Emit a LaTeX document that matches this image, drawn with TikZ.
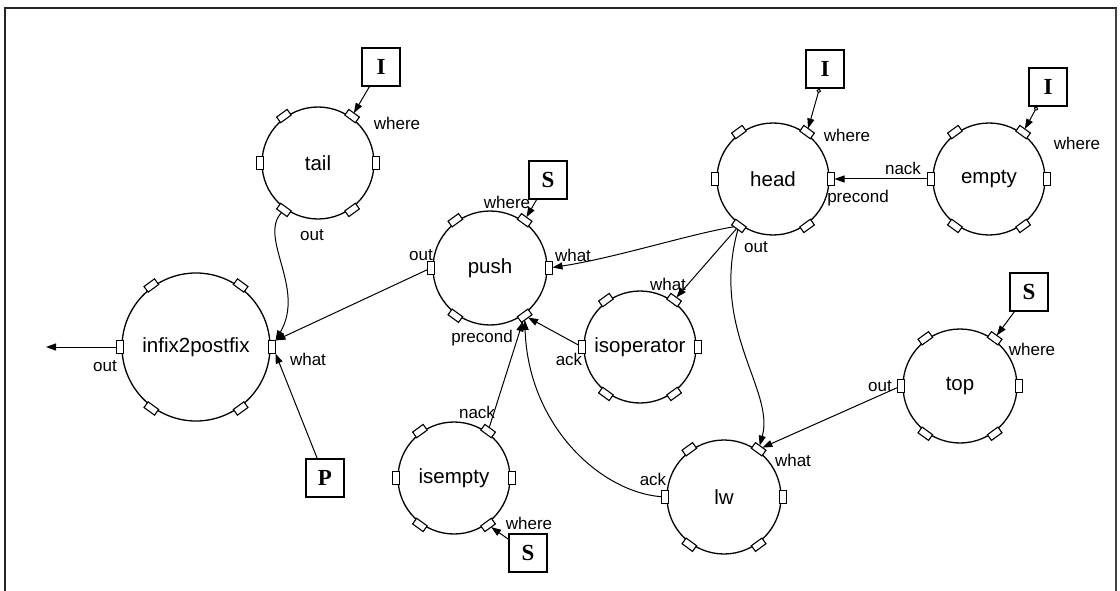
\documentclass[tikz,border=0pt]{standalone}
\usepackage{fontspec}
\setmainfont{Liberation Sans}
\newfontfamily\termfont{Liberation Serif}
\usetikzlibrary{arrows.meta,calc}

\tikzset{
  proc/.style={circle, draw, line width=1.3pt, inner sep=0pt,
    font=\fontsize{20.5}{22}\selectfont},
  port/.style={draw, fill=white, line width=1.1pt, minimum width=7pt,
    minimum height=13pt, inner sep=0pt, outer sep=0pt},
  termbox/.style={draw, line width=1.5pt, minimum size=38pt, inner sep=0pt,
    font=\termfont\bfseries\fontsize{23}{25}\selectfont},
  plabel/.style={font=\fontsize{17}{19}\selectfont, inner sep=0pt},
  wire/.style={line width=1pt, -{Triangle[length=10pt,width=7pt]}},
  tapwire/.style={line width=1pt,
    {Circle[open,length=4.5pt,width=4.5pt]}-{Triangle[length=10pt,width=7pt]}},
}

% a process: circle with six small port rectangles on its rim
% #1 name, #2 x, #3 y, #4 radius, #5 label
\newcommand\procnode[5]{%
  \node[proc, minimum size=#4*2pt] (#1) at (#2,#3) {#5};
  \foreach \a in {0,54,126,180,234,306}{
    \node[port, rotate=\a] (#1-\a) at ($(#1.center)+(\a:#4pt+2pt)$) {};
  }
}

\begin{document}
\begin{tikzpicture}[x=1pt,y=-1pt]
\useasboundingbox (0,0) rectangle (1120,591);
\fill[white] (0,0) rectangle (1120,591);

% outer frame
\draw[line width=1.4pt, black!85] (5,8) rectangle (1116,610);
\draw[line width=2.8pt, black!75] (1116,8) -- (1116,610);

% processes
\procnode{pTail}{318}{163}{56}{tail}
\procnode{pInfix}{196}{347}{74}{infix2postfix}
\procnode{pPush}{490}{268}{57}{push}
\procnode{pHead}{773}{179}{56}{head}
\procnode{pEmpty}{989}{179}{56}{empty}
\procnode{pIsop}{640}{347}{56}{isoperator}
\procnode{pIsempty}{454}{478}{56}{isempty}
\procnode{pLw}{724}{497}{57}{lw}
\procnode{pTop}{960}{386}{57}{top}

% terminals
\node[termbox] (iTail) at (381,67) {I};
\node[termbox] (pIn) at (325,478) {P};
\node[termbox] (sPush) at (548,180) {S};
\node[termbox] (iHead) at (825,69) {I};
\node[termbox] (iEmpty) at (1048,87) {I};
\node[termbox] (sTop) at (1029,292) {S};
\node[termbox] (sIsempty) at (528,553) {S};

% connectors
\coordinate (exitOut) at (46,347);
\draw[wire] (pInfix-180) -- (exitOut);
\draw[wire] (pTail-234) .. controls (258,238) and (306,288) .. (pInfix-0.north east);
\draw[wire] (pPush-180) -- (pInfix-0.north east);
\draw[wire] (pIn) -- (pInfix-0.south east);
\draw[wire] (iTail) -- (pTail-54);
\draw[wire] (sPush) -- (pPush-54);
\draw[wire] (pHead-234) .. controls (690,234) and (615,258) .. (pPush-0);
\draw[wire] (pHead-234) -- (pIsop-54);
\draw[wire] (pHead-234) .. controls (710,330) and (775,390) .. (pLw-54);
\draw[wire] (pEmpty-180) -- (pHead-0);
\draw[tapwire] (iHead) -- (pHead-54);
\draw[tapwire] (iEmpty) -- (pEmpty-54);
\draw[wire] (pIsop-180) -- (pPush-306);
\draw[wire] (pIsempty-54) -- (pPush-306);
\draw[wire] (pLw-180) .. controls (600,492) and (528,425) .. (pPush-306);
\draw[wire] (pTop-180) -- (pLw-54);
\draw[wire] (sIsempty) -- (pIsempty-306);
\draw[wire] (sTop) -- (pTop-54);

% port labels
\node[plabel] (lTailWhere) at (397,123) {where};
\node[plabel] (lTailOut) at (312,235) {out};
\node[plabel] (lInfixOut) at (105,366) {out};
\node[plabel] (lInfixWhat) at (308,359) {what};
\node[plabel] (lPushWhere) at (507,202) {where};
\node[plabel] (lPushOut) at (421,255) {out};
\node[plabel] (lPushWhat) at (573,255) {what};
\node[plabel] (lPushPre) at (482,338) {precond};
\node[plabel] (lHeadWhere) at (847,135) {where};
\node[plabel] (lHeadPre) at (858,198) {precond};
\node[plabel] (lHeadOut) at (756,247) {out};
\node[plabel] (lEmptyNack) at (903,168) {nack};
\node[plabel] (lEmptyWhere) at (1077,143) {where};
\node[plabel] (lIsopWhat) at (668,284) {what};
\node[plabel] (lIsopAck) at (569,359) {ack};
\node[plabel] (lIsemptyNack) at (477,412) {nack};
\node[plabel] (lIsemptyWhere) at (529,523) {where};
\node[plabel] (lLwWhat) at (793,460) {what};
\node[plabel] (lLwAck) at (653,479) {ack};
\node[plabel] (lTopWhere) at (1032,349) {where};
\node[plabel] (lTopOut) at (880,386) {out};
\end{tikzpicture}
\end{document}
